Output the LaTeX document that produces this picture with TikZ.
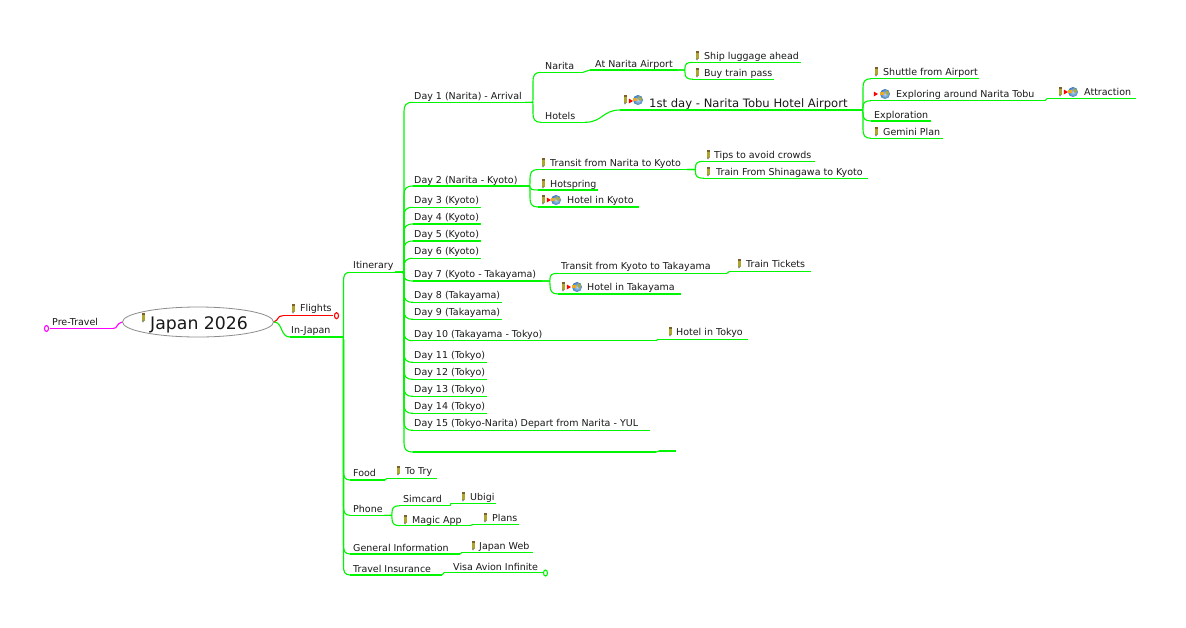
\documentclass[tikz,border=0pt]{standalone}
\usepackage{fontspec}
\setmainfont{DejaVu Sans}
\usetikzlibrary{calc,shapes.geometric}
\definecolor{lk}{RGB}{0,245,0}
\definecolor{pk}{RGB}{255,0,255}
\definecolor{rd}{RGB}{255,0,0}
\definecolor{pen}{RGB}{175,165,50}
\definecolor{pentop}{RGB}{125,95,40}
\definecolor{globe}{RGB}{60,125,190}
\definecolor{globeg}{RGB}{170,170,70}
\definecolor{lockc}{RGB}{235,170,40}
\tikzset{x=1pt,y=-1pt,
 tp/.style={anchor=base west,inner sep=0pt,font=\fontsize{9.5}{11}\selectfont,text=black!90},
 big/.style={tp,font=\fontsize{11.6}{13}\selectfont},
 rootnode/.style={ellipse,draw=black!45,line width=.8pt,inner sep=0pt,minimum width=151pt,minimum height=30pt,fill=white},
 wire/.style={line width=1.1pt},
}
\def\lc{lk}
% name, text x, text baseline, line start, line end, line y, text
\newcommand{\tpc}[8][tp]{\node[#1] (#2) at (#3,#4-0.4) {#8};
 \coordinate (#2-s) at (#5,#7); \coordinate (#2-e) at (#6,#7);
 \draw[wire,draw=\lc] (#2-s) -- (#2-e);}
% brace connector: runs along a vertical spine half way, hooks into the child
\newcommand{\conn}[2]{\draw[wire,draw=\lc] let \p1=(#1-e),\p2=(#2-s),\n1={(\x1+\x2)/2},\n2={abs(\y2-\y1)},\n3={(\y2>\y1)?1:-1},\n4={min(9pt,0.7*\n2)},\n5={min(3pt,0.25*\n2)} in
 (\p1) -- (\n1-2pt,\y1) .. controls (\n1,\y1) .. (\n1,\y1+\n3*\n5) -- (\n1,\y2-\n3*\n4) .. controls (\n1,\y2-\n3*0.35*\n4) and (\n1+0.5*\x2-0.5*\n1-0.3*\x2+0.3*\n1,\y2) .. (\p2);}
\newcommand{\sconn}[2]{\draw[wire,draw=\lc] let \p1=(#1-e),\p2=(#2-s),\n1={(\x2-\x1)/2} in (\p1) .. controls (\x1+\n1,\y1) and (\x2-\n1,\y2) .. (\p2);}
\newcommand{\pencil}[2]{\fill[pen] (#1-1.5,#2-4.8) rectangle (#1+1.5,#2+2.5);
 \fill[pentop] (#1-1.5,#2-4.8) rectangle (#1+1.5,#2-3.2);
 \fill[black!55] (#1-1.2,#2+2.5) -- (#1+1.2,#2+2.5) -- (#1,#2+4.6) -- cycle;}
\newcommand{\arrowicon}[2]{\fill[rd] (#1-2.2,#2-2.5) -- (#1+2,#2) -- (#1-2.2,#2+2.5) -- cycle;}
\newcommand{\globeicon}[2]{\shade[inner color=globe!35,outer color=globe] (#1,#2) circle (5);
 \fill[globeg] (#1+0.5,#2-4) -- (#1+4,#2-2) -- (#1+3,#2+1) -- (#1+0.5,#2) -- cycle;
 \fill[lockc] (#1-5,#2-2.5) rectangle (#1-1,#2+1);}
\begin{document}
\begin{tikzpicture}
\useasboundingbox (0,0) rectangle (1186,627);
\fill[white] (0,0) rectangle (1186,627);
% root
\node[rootnode] (root) at (198,322) {};
\node[tp,font=\fontsize{17.3}{20}\selectfont] (rootlabel) at (150,329) {Japan 2026};
\pencil{143}{318}
% pre-travel
\def\lc{pk}
\tpc{pt}{52}{326}{50}{113}{328.5}{Pre-Travel}
\draw[wire,draw=pk] (pt-e) .. controls (118,328.5) and (116,323.5) .. (root.west);
\draw[wire,draw=pk] (46.5,328.5) circle[x radius=2,y radius=3];
% flights
\def\lc{rd}
\tpc{fl}{300}{312}{283}{333}{315.7}{Flights}
\draw[wire,draw=rd] (root.east) .. controls (279,320) and (277,315.7) .. (fl-s);
\draw[wire,draw=rd] (336.5,315.7) circle[x radius=2,y radius=3];
\pencil{293}{309}
\def\lc{lk}
% in-japan
\tpc{ij}{291}{334}{290}{337}{337}{In-Japan}
\draw[wire,draw=lk] (root.east) .. controls (283,322) and (280,337) .. (ij-s);
\tpc{it}{353}{269}{350}{395}{272.3}{Itinerary}
\tpc{food}{353}{477}{350}{385}{480}{Food}
\tpc{ph}{353}{513}{350}{384}{515.3}{Phone}
\tpc{gi}{353}{552}{350}{460}{554}{General Information}
\tpc{ti}{353}{573}{350}{442}{575}{Travel Insurance}
\foreach \c in {it,food,ph,gi,ti}{\conn{ij}{\c}}
% bottom branches
\tpc{tt}{405}{475}{387}{437}{478.3}{To Try}\pencil{398}{471}
\sconn{food}{tt}
\tpc{sim}{403}{503}{400}{450}{505.7}{Simcard}
\tpc{ma}{412}{524}{400}{470}{525.7}{Magic App}\pencil{405}{520}
\conn{ph}{sim}\conn{ph}{ma}
\tpc{ub}{470}{501}{451}{496}{503.3}{Ubigi}\pencil{463}{497}
\sconn{sim}{ub}
\tpc{pl}{492}{522}{473}{519}{524.3}{Plans}\pencil{485}{518}
\sconn{ma}{pl}
\tpc{jw}{479}{550}{462}{533}{552.3}{Japan Web}\pencil{473}{546}
\sconn{gi}{jw}
\tpc{vi}{453}{571}{444}{543}{572.7}{Visa Avion Infinite}
\sconn{ti}{vi}
\draw[wire,draw=lk] (545.5,573) circle[x radius=2,y radius=3];
% days
\tpc{d1}{414}{100}{413}{525}{102.3}{Day 1 (Narita) - Arrival}
\tpc{d2}{414}{184}{413}{522}{186}{Day 2 (Narita - Kyoto)}
\tpc{d3}{414}{204}{413}{481}{207.3}{Day 3 (Kyoto)}
\tpc{d4}{414}{221}{413}{481}{224}{Day 4 (Kyoto)}
\tpc{d5}{414}{238}{413}{481}{241}{Day 5 (Kyoto)}
\tpc{d6}{414}{255}{413}{481}{258.3}{Day 6 (Kyoto)}
\tpc{d7}{414}{278}{413}{542}{281}{Day 7 (Kyoto - Takayama)}
\tpc{d8}{414}{299}{413}{502}{302.3}{Day 8 (Takayama)}
\tpc{d9}{414}{316}{413}{502}{319.3}{Day 9 (Takayama)}
\tpc{d10}{414}{338}{413}{656}{340.7}{Day 10 (Takayama - Tokyo)}
\tpc{d11}{414}{359}{413}{487}{362.3}{Day 11 (Tokyo)}
\tpc{d12}{414}{376}{413}{487}{379.3}{Day 12 (Tokyo)}
\tpc{d13}{414}{393}{413}{487}{396.3}{Day 13 (Tokyo)}
\tpc{d14}{414}{410}{413}{487}{413.3}{Day 14 (Tokyo)}
\tpc{d15}{414}{427}{413}{650}{430.3}{Day 15 (Tokyo-Narita) Depart from Narita - YUL}
\coordinate (d16-s) at (413,452); \coordinate (d16-e) at (656,452);
\draw[wire,draw=lk] (d16-s) -- (d16-e);
\foreach \c in {d1,d2,d3,d4,d5,d6,d7,d8,d9,d10,d11,d12,d13,d14,d15,d16}{\conn{it}{\c}}
\coordinate (emp-s) at (659,451); \coordinate (emp-e) at (676,451);
\draw[wire,draw=lk] (emp-s) -- (emp-e);
\sconn{d16}{emp}
% day 1
\tpc{nar}{545}{70}{541}{583}{72.3}{Narita}
\tpc{hot}{545}{120}{541}{585}{122.3}{Hotels}
\conn{d1}{nar}\conn{d1}{hot}
\tpc{at}{595}{68}{590}{677}{70}{At Narita Airport}
\sconn{nar}{at}
\tpc{sl}{704}{60}{693}{801}{62.3}{Ship luggage ahead}\pencil{697}{56}
\tpc{bt}{704}{77}{693}{774}{79.3}{Buy train pass}\pencil{697}{73}
\conn{at}{sl}\conn{at}{bt}
\tpc[big]{fd}{649}{108}{620}{855}{110}{1st day - Narita Tobu Hotel Airport}
\pencil{625}{100}\arrowicon{631}{101}\globeicon{638}{100}
\sconn{hot}{fd}
\tpc{sh}{883}{76}{871}{979}{78.7}{Shuttle from Airport}\pencil{876}{72}
\tpc{ex}{896}{98}{871}{1045}{100.7}{Exploring around Narita Tobu}\arrowicon{876}{94}\globeicon{885}{94}
\tpc{eo}{874}{119}{871}{931}{121}{Exploration}
\tpc{ge}{883}{136}{871}{943}{138.3}{Gemini Plan}\pencil{876}{132}
\conn{fd}{sh}\conn{fd}{ex}\conn{fd}{eo}\conn{fd}{ge}
\tpc{att}{1084}{96}{1047}{1136}{98.7}{Attraction}\pencil{1060}{92}\arrowicon{1066}{92}\globeicon{1073}{92}
\sconn{ex}{att}
% day 2
\tpc{tn}{550}{167}{538}{687}{169.5}{Transit from Narita to Kyoto}\pencil{543}{163}
\tpc{hs}{550}{188}{538}{598}{190}{Hotspring}\pencil{543}{184}
\tpc{hk}{567}{204}{538}{639}{207}{Hotel in Kyoto}\pencil{543}{200}\arrowicon{549}{200}\globeicon{556}{200}
\conn{d2}{tn}\conn{d2}{hs}\conn{d2}{hk}
\tpc{tp1}{714}{159}{704}{815}{161.3}{Tips to avoid crowds}\pencil{708}{155}
\tpc{tsh}{716}{176}{704}{868}{178.3}{Train From Shinagawa to Kyoto}\pencil{708}{172}
\conn{tn}{tp1}\conn{tn}{tsh}
% day 7
\tpc{tk}{561}{270}{558}{727}{273.3}{Transit from Kyoto to Takayama}
\tpc{ht}{587}{291}{558}{681}{294}{Hotel in Takayama}\pencil{563}{287}\arrowicon{569}{287}\globeicon{577}{287}
\conn{d7}{tk}\conn{d7}{ht}
\tpc{trt}{746}{268}{729}{811}{271.7}{Train Tickets}\pencil{739}{264}
\sconn{tk}{trt}
% day 10
\tpc{hto}{676}{336}{658}{748}{339.3}{Hotel in Tokyo}\pencil{670}{332}
\sconn{d10}{hto}
\end{tikzpicture}
\end{document}
